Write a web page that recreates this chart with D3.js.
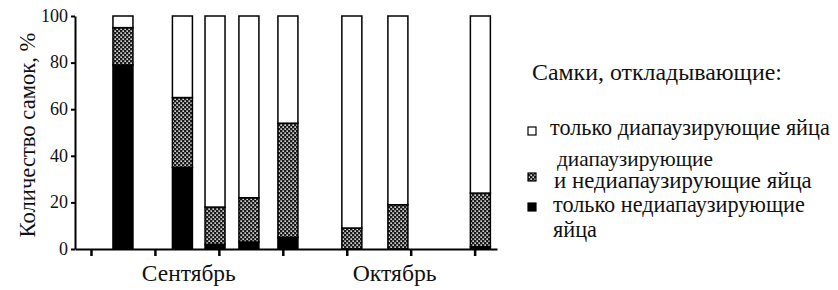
<!DOCTYPE html>
<html>
<head>
<meta charset="utf-8">
<script src="https://cdn.jsdelivr.net/npm/d3@7"></script>
<style>
  body { margin: 0; background: #fff; }
  #chart { position: relative; width: 838px; height: 290px; }
  #chart svg { position: absolute; left: 0; top: 0; }
  .lbl { position: absolute; white-space: nowrap; line-height: 1; color: #111; }
</style>
</head>
<body>
<div id="chart"></div>
<script>
// данные: день от начала сентября и доли самок, %
const days = [5, 14.3, 19.4, 24.7, 30.8, 40.8, 48, 60.9];
const onlyNonDiap = [79, 35, 2, 3, 5, 0, 0, 1];
const mixed = [16, 30, 16, 19, 49, 9, 19, 23];
const onlyDiap = [5, 35, 82, 78, 46, 91, 81, 76];
const xTicks = [0, 10, 20, 30, 40, 50, 60];
const yTicks = [0, 20, 40, 60, 80, 100];
const months = ["Сентябрь", "Октябрь"];
const monthPos = [15.3, 47.5];
const yTitle = "Количество самок, %";
const legendTitle = "Самки, откладывающие:";
const legendItems = [
  ["только диапаузирующие яйца"],
  ["диапаузирующие", "и недиапаузирующие яйца"],
  ["только недиапаузирующие", "яйца"]
];

const FONT = "'Liberation Serif', 'Times New Roman', serif";
const W = 838, H = 290;
const root = d3.select("#chart");
const svg = root.append("svg").attr("width", W).attr("height", H);

// подписи - html-текст поверх svg, размер шрифта подгоняется под ширину
function label(txt, width) {
  const el = root.append("div").attr("class", "lbl")
    .style("font-family", FONT, "important")
    .style("font-size", "20px").text(txt);
  const w = el.node().getBoundingClientRect().width;
  const fs = 20 * width / w;
  el.style("font-size", fs + "px");
  return {el, fs};
}
function place(l, x, base, anchor) {
  const w = l.el.node().getBoundingClientRect().width;
  const left = anchor === "middle" ? x - w / 2 : anchor === "end" ? x - w : x;
  l.el.style("left", left + "px").style("top", (base - 0.8375 * l.fs) + "px");
}

// штриховка "в клетку"
const pat = svg.append("defs").append("pattern")
  .attr("id", "chk").attr("patternUnits", "userSpaceOnUse")
  .attr("width", 4).attr("height", 4);
pat.append("rect").attr("width", 4).attr("height", 4).attr("fill", "#1a1a1a");
pat.append("rect").attr("x", 0.4).attr("y", 0.4).attr("width", 1.5).attr("height", 1.5).attr("fill", "#fff");
pat.append("rect").attr("x", 2.4).attr("y", 2.4).attr("width", 1.5).attr("height", 1.5).attr("fill", "#fff");

const x = d3.scaleLinear().domain([-2.5, 63.5]).range([75, 497]);
const y = d3.scaleLinear().domain([0, 100]).range([249, 16]);
const bw = 20;

// столбцы
const stack = [
  {vals: onlyNonDiap, fill: "#000"},
  {vals: mixed, fill: "url(#chk)"},
  {vals: onlyDiap, fill: "#fff"}
];
days.forEach((d, i) => {
  let base = 0;
  stack.forEach(s => {
    const v = s.vals[i];
    if (v > 0) {
      svg.append("rect")
        .attr("x", x(d) - bw / 2)
        .attr("y", y(base + v))
        .attr("width", bw)
        .attr("height", y(base) - y(base + v))
        .attr("fill", s.fill)
        .attr("stroke", "#000")
        .attr("stroke-width", 1.5);
    }
    base += v;
  });
});

// ось Y
const yAxis = svg.append("g")
  .attr("transform", "translate(75,0)")
  .call(d3.axisLeft(y).tickValues(yTicks).tickSize(4).tickFormat("").tickSizeOuter(0));
yAxis.select(".domain").attr("stroke-width", 2).attr("stroke", "#000");
yAxis.selectAll(".tick line").attr("stroke-width", 2);

const probe = label("100", 27);
const tickFs = probe.fs;
probe.el.remove();
yTicks.forEach(v => {
  const l = label(String(v), 27);
  l.el.style("font-size", tickFs + "px");
  l.fs = tickFs;
  place(l, 68, y(v) + 0.33 * tickFs, "end");
});

// ось X
const xAxis = svg.append("g")
  .attr("transform", "translate(0,249)")
  .call(d3.axisBottom(x).tickValues(xTicks).tickSize(7).tickFormat("").tickSizeOuter(0));
xAxis.select(".domain").attr("stroke-width", 2).attr("stroke", "#000");
xAxis.selectAll(".tick line").attr("stroke-width", 2.5);

const monthW = [94, 84];
months.forEach((m, i) => {
  place(label(m, monthW[i]), x(monthPos[i]), 282, "middle");
});

// подпись оси Y
const yt = label(yTitle, 205);
yt.el.style("left", "28px").style("top", "135px")
  .style("transform", "translate(-50%,-50%) rotate(-90deg)");

// легенда
place(label(legendTitle, 250), 532, 81);

const legY = [131, 177, 207];
const legFill = ["#fff", "url(#chk)", "#000"];
const lineY = [[136], [167, 189], [213, 238]];
const lineX = [[550], [557, 554], [553, 553]];
const lineW = [[280], [156, 258], [252, 44]];
legendItems.forEach((lines, i) => {
  svg.append("rect")
    .attr("x", 528).attr("y", legY[i] - 4)
    .attr("width", 8).attr("height", 8)
    .attr("fill", legFill[i]).attr("stroke", "#000").attr("stroke-width", 1.2);
  lines.forEach((t, j) => {
    place(label(t, lineW[i][j]), lineX[i][j], lineY[i][j]);
  });
});
</script>
</body>
</html>
